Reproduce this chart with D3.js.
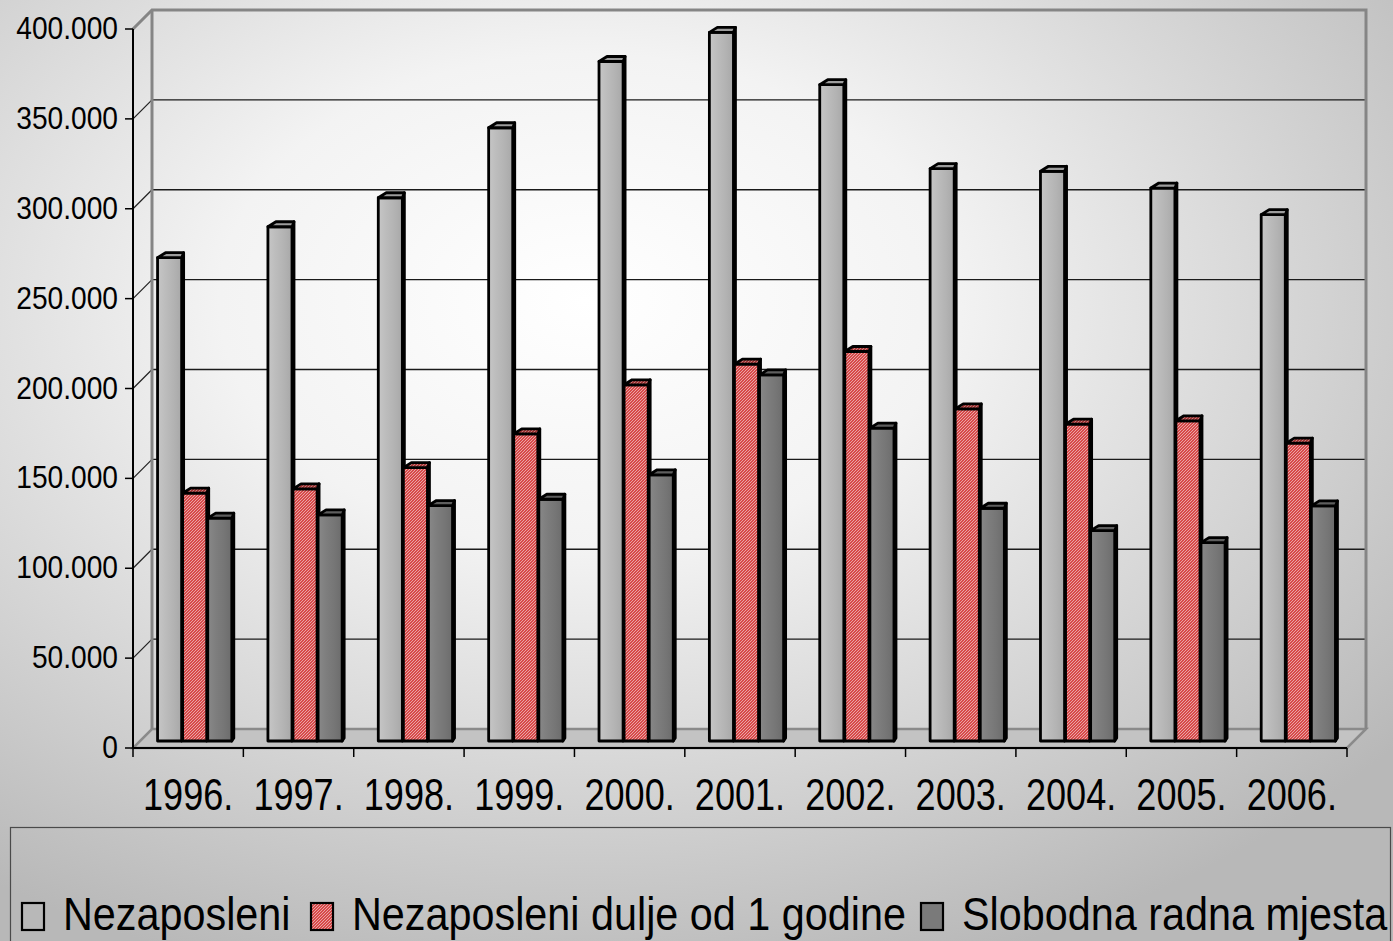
<!DOCTYPE html>
<html>
<head>
<meta charset="utf-8">
<script src="https://cdn.jsdelivr.net/npm/d3@7/dist/d3.min.js"></script>
<style>
  body { margin: 0; background: #fff; }
  svg { display: block; }
  text { font-family: "Liberation Sans", Arial, sans-serif; fill: #000; }
</style>
</head>
<body>
<svg id="chart" width="1393" height="941"></svg>
<script>
// chart values
var years = ["1996.", "1997.", "1998.", "1999.", "2000.", "2001.", "2002.", "2003.", "2004.", "2005.", "2006."];
var seriesNames = ["Nezaposleni", "Nezaposleni dulje od 1 godine", "Slobodna radna mjesta"];
var nezaposleni = [268500, 285700, 301800, 340700, 377500, 393700, 364600, 318000, 316500, 307200, 292400];
var nezaposleniDulje = [137700, 140100, 151900, 170600, 197900, 209400, 216400, 184500, 176000, 177900, 165500];
var slobodnaMjesta = [123800, 125600, 130800, 134300, 147900, 203400, 173800, 129300, 116900, 110200, 130600];
var yTicks = [0, 50000, 100000, 150000, 200000, 250000, 300000, 350000, 400000];

var series = [nezaposleni, nezaposleniDulje, slobodnaMjesta];

var front = { left: 133, right: 1347, top: 29, bottom: 748 }
  , depth = { dx: 19, dy: -19 }      // floor / wall depth
  , barShift = { dx: 7, dy: -7 }     // bars stand inside the floor
  , barDepth = { dx: 2, dy: -5, skew: 8 }
  ;

var svg = d3.select("#chart");
var defs = svg.append("defs");

// background
var bg = defs.append("radialGradient").attr("id", "bg")
  .attr("cx", "42%").attr("cy", "32%").attr("r", "75%");
bg.append("stop").attr("offset", "0").attr("stop-color", "#ffffff");
bg.append("stop").attr("offset", "0.35").attr("stop-color", "#f3f3f3");
bg.append("stop").attr("offset", "1").attr("stop-color", "#b8b8b8");
svg.append("rect").attr("width", 1393).attr("height", 941).attr("fill", "url(#bg)");

// bar face gradients
function stripe(id, cols) {
  var g = defs.append("linearGradient").attr("id", id).attr("x1", "0").attr("x2", "1").attr("y1", "0").attr("y2", "0");
  cols.forEach(function(c, i) {
    g.append("stop").attr("offset", i / (cols.length - 1)).attr("stop-color", c);
  });
}
stripe("greyFace", ["#c6c6c6", "#bcbcbc", "#b3b3b3", "#a8a8a8"]);
stripe("darkFace", ["#888888", "#7e7e7e", "#767676", "#6c6c6c"]);

// fine red hatch (3px tile, one light diagonal)
function hatch(id, base, light) {
  var p = defs.append("pattern").attr("id", id)
    .attr("width", 3).attr("height", 3).attr("patternUnits", "userSpaceOnUse");
  p.append("rect").attr("width", 3).attr("height", 3).attr("fill", base);
  p.append("rect").attr("x", 0).attr("y", 2).attr("width", 1).attr("height", 1).attr("fill", light);
  p.append("rect").attr("x", 1).attr("y", 1).attr("width", 1).attr("height", 1).attr("fill", light);
  p.append("rect").attr("x", 2).attr("y", 0).attr("width", 1).attr("height", 1).attr("fill", light);
}
hatch("redHatch", "#d84a4a", "#e8a6a6");
hatch("redHatchTop", "#a83434", "#c08080");

var faceFill = ["url(#greyFace)", "url(#redHatch)", "url(#darkFace)"];
var topFill = ["#9c9c9c", "url(#redHatchTop)", "#5e5e5e"];
var sideFill = ["#8e8e8e", "#a02a2e", "#555555"];
var legendFill = ["none", "url(#redHatch)", "#7a7a7a"];

// scales
var yFront = d3.scaleLinear().domain([0, 400000]).range([front.bottom, front.top]);
var yBar = d3.scaleLinear().domain([0, 400000])
  .range([front.bottom + barShift.dy, front.top + barShift.dy - 1]);
var x0 = d3.scaleBand().domain(years).range([front.left, front.right]);
var x1 = d3.scaleBand().domain(d3.range(series.length))
  .range([0, x0.bandwidth()]).paddingInner(0).paddingOuter(0.7);

var fmt = d3.formatLocale({ decimal: ",", thousands: ".", grouping: [3], currency: ["", ""] }).format(",d");

// floor
var backBottom = front.bottom + depth.dy;
svg.append("path")
  .attr("d", "M" + front.left + "," + front.bottom + " L" + front.right + "," + front.bottom +
    " L" + (front.right + depth.dx) + "," + backBottom + " L" + (front.left + depth.dx) + "," + backBottom + " Z")
  .attr("fill", "#c3c3c3").attr("stroke", "#8a8a8a").attr("stroke-width", 2.5);

// gridlines on side wall (diagonals) and back wall
var grid = svg.append("g").attr("class", "grid");
grid.selectAll("line.diag").data(yTicks.slice(1, -1)).enter().append("line")
  .attr("x1", front.left).attr("x2", front.left + depth.dx)
  .attr("y1", function(d) { return yFront(d); })
  .attr("y2", function(d) { return yFront(d) + depth.dy; })
  .attr("stroke", "#222").attr("stroke-width", 1.2);
grid.selectAll("line.back").data(yTicks.slice(1, -1)).enter().append("line")
  .attr("x1", front.left + depth.dx).attr("x2", front.right + depth.dx)
  .attr("y1", function(d) { return yFront(d) + depth.dy; })
  .attr("y2", function(d) { return yFront(d) + depth.dy; })
  .attr("stroke", "#1a1a1a").attr("stroke-width", 1.3);

// wall outline (grey)
var topBack = yFront(400000) + depth.dy;
svg.append("path")
  .attr("d", "M" + front.left + "," + front.top + " L" + (front.left + depth.dx) + "," + topBack +
    " L" + (front.right + depth.dx) + "," + topBack + " L" + (front.right + depth.dx) + "," + backBottom)
  .attr("fill", "none").attr("stroke", "#858585").attr("stroke-width", 3);
svg.append("line")
  .attr("x1", front.left + depth.dx).attr("x2", front.left + depth.dx)
  .attr("y1", topBack).attr("y2", backBottom)
  .attr("stroke", "#858585").attr("stroke-width", 3);

// bars
var groups = svg.selectAll("g.year").data(years).enter().append("g")
  .attr("class", "year");

groups.each(function(year, yi) {
  var g = d3.select(this);
  series.forEach(function(vals, si) {
    var x = x0(year) + x1(si) + barShift.dx
      , w = x1.bandwidth() - 1
      , yt = yBar(vals[yi])
      , yb = yBar(0)
      , bdx = barDepth.dx, bdy = barDepth.dy;
    var bar = g.append("g").attr("class", "bar s" + si)
      .attr("stroke", "#000").attr("stroke-width", 2.8).attr("stroke-linejoin", "round");
    bar.append("path")
      .attr("d", "M" + (x + w) + "," + yt + " L" + (x + w + bdx) + "," + (yt + bdy) +
        " L" + (x + w + bdx) + "," + (yb - 3) + " L" + (x + w) + "," + yb + " Z")
      .attr("fill", sideFill[si]);
    bar.append("rect")
      .attr("x", x).attr("y", yt).attr("width", w).attr("height", yb - yt)
      .attr("fill", faceFill[si]);
    bar.append("path")
      .attr("d", "M" + x + "," + yt + " L" + (x + barDepth.skew) + "," + (yt + bdy) +
        " L" + (x + w + bdx) + "," + (yt + bdy) + " L" + (x + w) + "," + yt + " Z")
      .attr("fill", topFill[si]);
  });
});

// value axis
var yAxis = svg.append("g").attr("class", "y axis");
yAxis.append("line")
  .attr("x1", front.left).attr("x2", front.left)
  .attr("y1", front.top).attr("y2", front.bottom)
  .attr("stroke", "#000").attr("stroke-width", 2);
yAxis.selectAll("line.tick").data(yTicks).enter().append("line")
  .attr("x1", front.left - 8).attr("x2", front.left)
  .attr("y1", function(d) { return yFront(d); })
  .attr("y2", function(d) { return yFront(d); })
  .attr("stroke", "#000").attr("stroke-width", 1.5);
yAxis.selectAll("text").data(yTicks).enter().append("text")
  .attr("transform", function(d) { return "translate(118," + (yFront(d) + 10) + ") scale(0.88,1)"; })
  .attr("text-anchor", "end")
  .style("font-size", "32px")
  .text(function(d) { return fmt(d); });

// category axis
var xAxis = svg.append("g").attr("class", "x axis");
xAxis.append("line")
  .attr("x1", front.left).attr("x2", front.right)
  .attr("y1", front.bottom).attr("y2", front.bottom)
  .attr("stroke", "#000").attr("stroke-width", 2);
xAxis.selectAll("line.tick").data(years.concat(["end"])).enter().append("line")
  .attr("x1", function(d, i) { return front.left + i * x0.bandwidth(); })
  .attr("x2", function(d, i) { return front.left + i * x0.bandwidth(); })
  .attr("y1", front.bottom).attr("y2", front.bottom + 9)
  .attr("stroke", "#000").attr("stroke-width", 1.5);
xAxis.selectAll("text").data(years).enter().append("text")
  .attr("transform", function(d) { return "translate(" + (x0(d) + x0.bandwidth() / 2) + ",810) scale(0.82,1)"; })
  .attr("text-anchor", "middle")
  .style("font-size", "44px")
  .text(function(d) { return d; });

// legend
var legendG = svg.append("g").attr("class", "legend");
legendG.append("rect")
  .attr("x", 10.5).attr("y", 827.5).attr("width", 1380).attr("height", 140)
  .attr("fill", "none").attr("stroke", "#4a4a4a").attr("stroke-width", 1.2);
var legendX = [22, 311, 921];
var item = legendG.selectAll("g.item").data(seriesNames).enter().append("g")
  .attr("class", "item")
  .attr("transform", function(d, i) { return "translate(" + legendX[i] + ",0)"; });
item.append("rect")
  .attr("x", 0).attr("y", 903).attr("width", 22).attr("height", 27)
  .attr("fill", function(d, i) { return legendFill[i]; })
  .attr("stroke", "#000").attr("stroke-width", 2.2);
item.append("text")
  .attr("transform", "translate(41,930) scale(0.88,1)")
  .style("font-size", "47px")
  .text(function(d) { return d; });
</script>
</body>
</html>
